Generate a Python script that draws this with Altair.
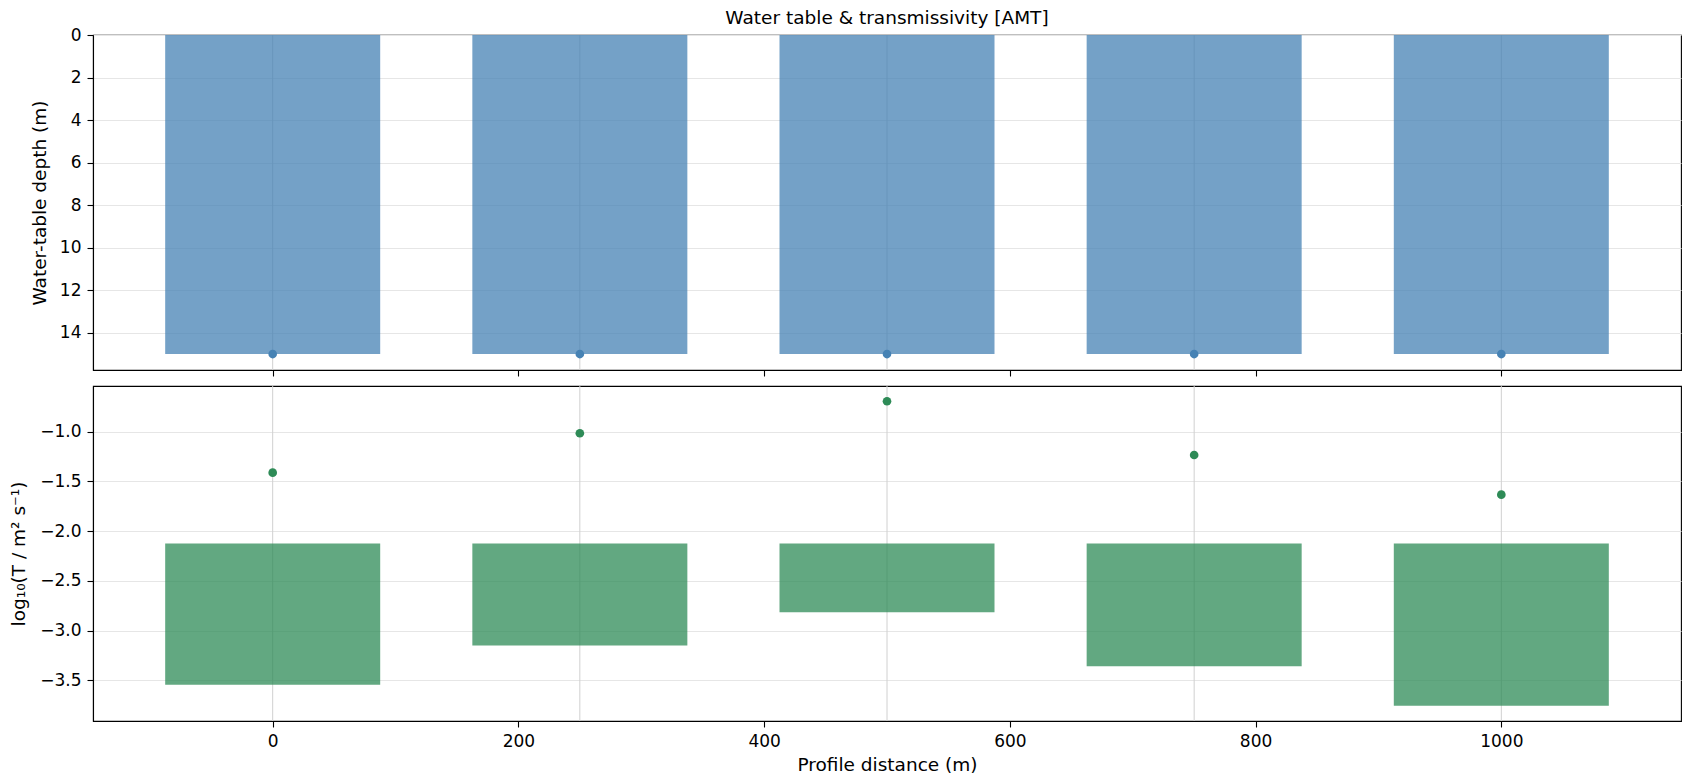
import altair as alt
import pandas as pd

# ---- data ----
stations = [0, 250, 500, 750, 1000]
water_depth = [15, 15, 15, 15, 15]
log_t = [-1.413, -1.017, -0.695, -1.235, -1.634]
bar_base = [-2.124, -2.124, -2.124, -2.124, -2.124]
bar_value = [-3.544, -3.150, -2.815, -3.358, -3.755]

x_ticks = [0, 200, 400, 600, 800, 1000]
depth_ticks = [0, 2, 4, 6, 8, 10, 12, 14]
logt_ticks = [-3.5, -3.0, -2.5, -2.0, -1.5, -1.0]

BAR_W = 175
X_DOMAIN = [-146.25, 1146.25]
DEPTH_DOMAIN = [0, 15.75]
LOGT_DOMAIN = [-3.908, -0.542]

df = pd.DataFrame({
    "station": stations,
    "water_depth": water_depth,
    "log_t": log_t,
    "bar_base": bar_base,
    "bar_value": bar_value,
})

W, H = 1588, 335
FONT = "DejaVu Sans"
BLUE = "#4682b4"
GREEN = "#2e8b57"
RULE = "#d0d0d0"

x_scale = alt.Scale(domain=X_DOMAIN, nice=False, zero=False)

base = alt.Chart(df).transform_calculate(
    x0=f"datum.station - {BAR_W / 2}",
    x1=f"datum.station + {BAR_W / 2}",
)

# ---------------- top panel ----------------
top_x_axis = alt.Axis(values=x_ticks, labels=False, title=None, grid=False)
depth_scale = alt.Scale(domain=DEPTH_DOMAIN, reverse=True, nice=False, zero=False)
depth_axis = alt.Axis(values=depth_ticks, format="d", title="Water-table depth (m)",
                      titleX=-47.9, titleY=H / 2, titleBaseline="alphabetic")

top_rules = base.mark_rule(color=RULE, strokeWidth=1).encode(
    x=alt.X("station:Q", scale=x_scale, axis=top_x_axis),
)
top_bars = base.mark_bar(color=BLUE, opacity=0.75).encode(
    x=alt.X("x0:Q", scale=x_scale, axis=top_x_axis),
    x2="x1:Q",
    y=alt.Y("water_depth:Q", scale=depth_scale, axis=depth_axis),
    y2=alt.datum(0),
)
top_points = base.mark_circle(color=BLUE, size=75, opacity=1).encode(
    x=alt.X("station:Q", scale=x_scale, axis=top_x_axis),
    y=alt.Y("water_depth:Q", scale=depth_scale, axis=depth_axis),
)
top = alt.layer(top_rules, top_bars, top_points).properties(width=W, height=H)

# ---------------- bottom panel ----------------
bot_x_axis = alt.Axis(values=x_ticks, format="d", title="Profile distance (m)",
                      grid=False, titlePadding=6, labelFlush=False)
logt_scale = alt.Scale(domain=LOGT_DOMAIN, nice=False, zero=False)
logt_axis = alt.Axis(values=logt_ticks, format=".1f", title="log₁₀(T / m² s⁻¹)",
                     titleX=-69, titleY=H / 2, titleBaseline="alphabetic")

bot_rules = base.mark_rule(color=RULE, strokeWidth=1).encode(
    x=alt.X("station:Q", scale=x_scale, axis=bot_x_axis),
)
bot_bars = base.mark_bar(color=GREEN, opacity=0.75).encode(
    x=alt.X("x0:Q", scale=x_scale, axis=bot_x_axis),
    x2="x1:Q",
    y=alt.Y("bar_value:Q", scale=logt_scale, axis=logt_axis),
    y2="bar_base:Q",
)
bot_points = base.mark_circle(color=GREEN, size=75, opacity=1).encode(
    x=alt.X("station:Q", scale=x_scale, axis=bot_x_axis),
    y=alt.Y("log_t:Q", scale=logt_scale, axis=logt_axis),
)
bottom = alt.layer(bot_rules, bot_bars, bot_points).properties(width=W, height=H)

chart = alt.vconcat(top, bottom, spacing=16, bounds="flush").properties(
    padding={"left": 0, "top": 0, "right": 0, "bottom": 0},
    background="white",
    title=alt.TitleParams("Water table & transmissivity [AMT]", frame="group",
                          anchor="middle", offset=-21, baseline="bottom"),
).configure_axis(
    labelFont=FONT, titleFont=FONT, labelFontSize=17, titleFontSize=18.5,
    labelColor="black", titleColor="black", titleFontWeight="normal",
    domainColor="black", domainWidth=1.1, tickColor="black", tickWidth=1.1,
    tickSize=6, labelPadding=6, gridColor="#e6e6e6", gridWidth=1.1,
).configure_axisX(grid=False).configure_axisY(grid=True).configure_view(
    stroke="black", strokeWidth=1.1,
).configure_title(
    font=FONT, fontSize=18.5, fontWeight="normal", color="black",
)

chart.save("out.html", embed_options={"renderer": "svg", "actions": False})
